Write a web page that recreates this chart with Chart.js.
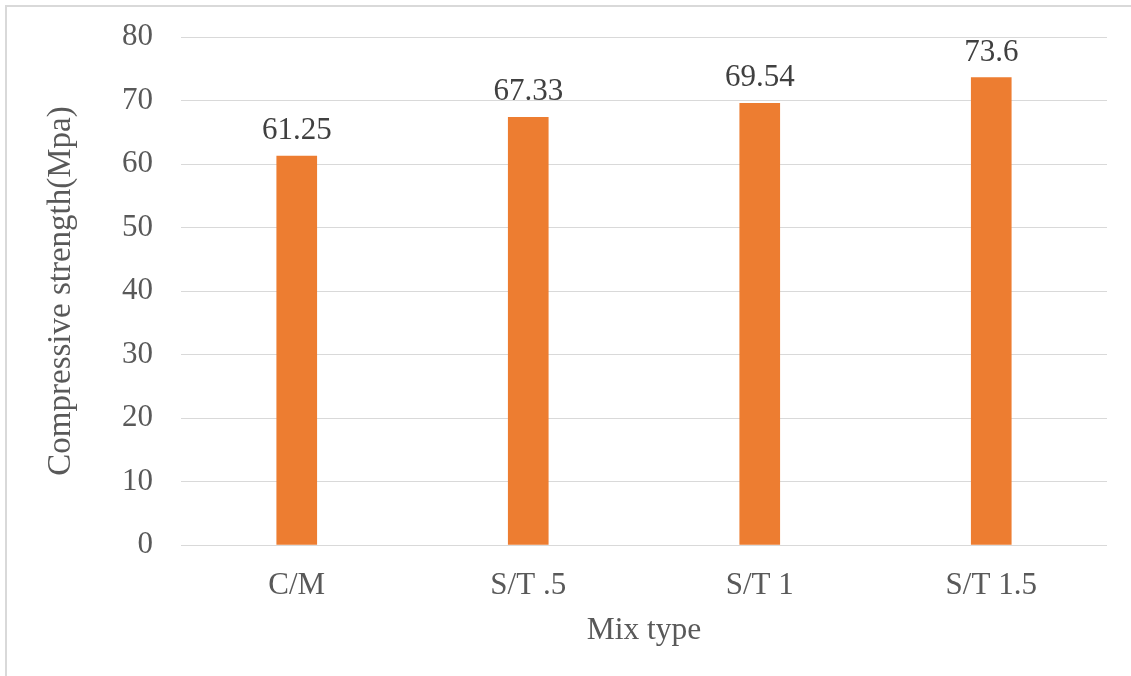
<!DOCTYPE html>
<html>
<head>
<meta charset="utf-8">
<script src="https://cdn.jsdelivr.net/npm/chart.js@4/dist/chart.umd.min.js"></script>
<style>
  html, body { margin: 0; padding: 0; background: #ffffff; }
  #frame {
    position: absolute; left: 5px; top: 5px; width: 1200px; height: 700px;
    border-left: 2px solid #d9d9d9; border-top: 2px solid #d9d9d9;
    box-sizing: border-box;
  }
  #wrap { position: absolute; left: 0; top: 0; width: 1131px; height: 676px; }
</style>
</head>
<body>
<div id="frame"></div>
<div id="wrap"><canvas id="chart" width="1131" height="676"></canvas></div>
<script>
// Mix types and their measured compressive strength (MPa)
const mixTypes = ['C/M', 'S/T .5', 'S/T 1', 'S/T 1.5'];
const strengthValues = [61.25, 67.33, 69.54, 73.6];
const strengthLabels = ['61.25', '67.33', '69.54', '73.6'];

const FONT = '"Liberation Serif", "Times New Roman", serif';

// Writes each bar's value just above it
const valueLabels = {
  id: 'valueLabels',
  afterDatasetsDraw(chart) {
    const ctx = chart.ctx;
    const meta = chart.getDatasetMeta(0);
    ctx.save();
    ctx.font = '31px ' + FONT;
    ctx.fillStyle = '#404040';
    ctx.textAlign = 'center';
    ctx.textBaseline = 'alphabetic';
    meta.data.forEach((bar, i) => {
      ctx.fillText(strengthLabels[i], bar.x, bar.y - 17);
    });
    ctx.restore();
  }
};

new Chart(document.getElementById('chart'), {
  type: 'bar',
  data: {
    labels: mixTypes,
    datasets: [{
      data: strengthValues,
      backgroundColor: '#ED7D31',
      borderWidth: 0,
      barThickness: 40
    }]
  },
  options: {
    responsive: false,
    animation: false,
    layout: { padding: { left: 0, right: 24, top: 37, bottom: 0 } },
    plugins: { legend: { display: false }, tooltip: { enabled: false } },
    scales: {
      x: {
        grid: { display: false, drawTicks: false },
        border: { display: false },
        ticks: { color: '#595959', font: { family: FONT, size: 31 }, padding: 22, maxRotation: 0 },
        title: {
          display: true, text: 'Mix type', color: '#595959',
          font: { family: FONT, size: 31.5 }, padding: { top: 0, bottom: 26 }
        },
        afterFit(scale) { scale.height = 131; }
      },
      y: {
        min: 0, max: 80,
        grid: { color: '#d9d9d9', lineWidth: 1, drawTicks: false },
        border: { display: false },
        ticks: { stepSize: 10, color: '#595959', font: { family: FONT, size: 31, lineHeight: 0.5 }, padding: 28 },
        title: {
          display: true, text: 'Compressive strength(Mpa)', color: '#595959',
          font: { family: FONT, size: 33 }, padding: { top: 42, bottom: 0 }
        },
        afterFit(scale) { scale.width = 181; }
      }
    }
  },
  plugins: [valueLabels]
});
</script>
</body>
</html>
